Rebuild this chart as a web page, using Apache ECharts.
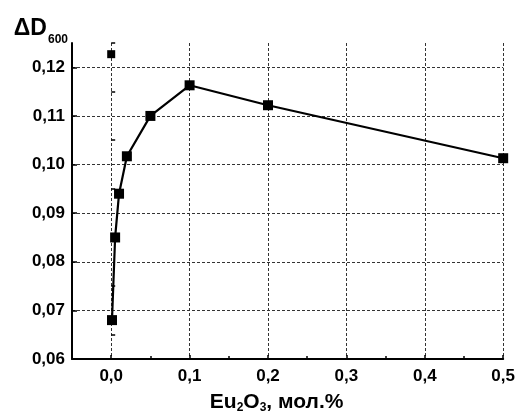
<!DOCTYPE html>
<html>
<head>
<meta charset="utf-8">
<script src="https://cdn.jsdelivr.net/npm/echarts@6/dist/echarts.min.js"></script>
<style>
html,body{margin:0;padding:0;background:#fff;}
#main{width:518px;height:419px;}
</style>
</head>
<body>
<div id="main"></div>
<script>
// концентрация Eu2O3, мол.%
var eu = [0.001, 0.005, 0.01, 0.02, 0.05, 0.1, 0.2, 0.5];
var dD = [0.068, 0.085, 0.094, 0.1017, 0.110, 0.1163, 0.1122, 0.1013];
// отдельная точка
var single = [[0, 0.1227]];
var xMajor = [0, 0.1, 0.2, 0.3, 0.4, 0.5];
var xMinor = [0.05, 0.15, 0.25, 0.35, 0.45];
var yMajor = [0.06, 0.07, 0.08, 0.09, 0.10, 0.11, 0.12];
var yMinor = [0.065, 0.075, 0.085, 0.095, 0.105, 0.115, 0.125];

var font = 'Arial, "Liberation Sans", sans-serif';
var gridLine = {show: true, lineStyle: {color: '#333', width: 1, type: [3, 2]}};
function comma(d) {
    return function (v) { return v.toFixed(d).replace('.', ','); };
}

var myChart = echarts.init(document.getElementById('main'));
var option = {
    animation: false,
    backgroundColor: '#fff',
    grid: {left: 72, right: 13, top: 43, bottom: 52},
    xAxis: [
        {
            type: 'value', min: -0.05, max: 0.5,
            name: 'Eu{s|2}O{s|3}, мол.%',
            nameLocation: 'middle', nameGap: 31,
            nameTextStyle: {
                fontFamily: font, fontWeight: 'bold', fontSize: 21, color: '#000',
                padding: [0, 22, 0, 0],
                rich: {s: {fontFamily: font, fontWeight: 'bold', fontSize: 12, color: '#000', padding: [12, 0, 0, 0]}}
            },
            axisLine: {onZero: false, lineStyle: {color: '#000', width: 2}},
            axisTick: {inside: true, length: 4, customValues: xMajor, lineStyle: {color: '#000', width: 1.5}},
            axisLabel: {customValues: xMajor, formatter: comma(1), fontFamily: font, fontWeight: 'bold', fontSize: 17, color: '#000', margin: 9},
            splitLine: gridLine
        },
        {
            type: 'value', min: -0.05, max: 0.5, position: 'bottom',
            axisLine: {show: false},
            axisTick: {inside: true, length: 3, customValues: xMinor, lineStyle: {color: '#000', width: 1.5}},
            axisLabel: {show: false},
            splitLine: {show: false}
        }
    ],
    yAxis: [
        {
            type: 'value', min: 0.06, max: 0.125,
            name: '{a|ΔD}{b|600}',
            nameLocation: 'end', nameGap: -3,
            nameTextStyle: {
                align: 'right', verticalAlign: 'bottom', padding: [0, 4, 0, 0],
                rich: {
                    a: {fontFamily: font, fontWeight: 'bold', fontSize: 23, color: '#000', verticalAlign: 'top', padding: [0, 1, 6, 0]},
                    b: {fontFamily: font, fontWeight: 'bold', fontSize: 12, color: '#000', verticalAlign: 'bottom'}
                }
            },
            axisLine: {show: true, onZero: false, lineStyle: {color: '#000', width: 2}},
            axisTick: {inside: true, length: 5, customValues: yMajor, lineStyle: {color: '#000', width: 1.5}},
            axisLabel: {customValues: yMajor, formatter: comma(2), fontFamily: font, fontWeight: 'bold', fontSize: 17, color: '#000', margin: 7},
            splitLine: gridLine
        },
        {
            type: 'value', min: 0.06, max: 0.125, position: 'left',
            axisLine: {show: false},
            axisTick: {show: true, inside: true, length: 4, customValues: yMinor, lineStyle: {color: '#000', width: 1.5}},
            axisLabel: {show: false},
            splitLine: {show: false}
        }
    ],
    series: [
        {
            type: 'line',
            data: eu.map(function (x, i) { return [x, dD[i]]; }),
            symbol: 'rect', symbolSize: 10,
            itemStyle: {color: '#000'},
            lineStyle: {color: '#000', width: 2.2},
            clip: false
        },
        {
            type: 'scatter',
            data: single,
            symbol: 'rect', symbolSize: 8,
            itemStyle: {color: '#000', opacity: 1},
            clip: false
        }
    ]
};
myChart.setOption(option);
</script>
</body>
</html>
